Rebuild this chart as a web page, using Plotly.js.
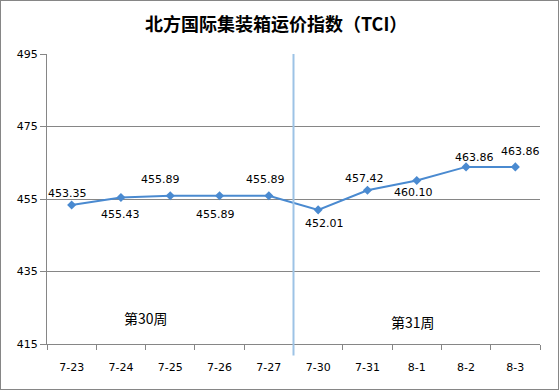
<!DOCTYPE html>
<html>
<head>
<meta charset="utf-8">
<script src="https://cdn.plot.ly/plotly-3.0.1.min.js"></script>
<style>
html,body{margin:0;padding:0;background:#fff;}
#chart{width:559px;height:390px;box-sizing:border-box;border:1px solid #868686;}
</style>
</head>
<body>
<div id="chart"></div>
<script>
const categories = ["7-23","7-24","7-25","7-26","7-27","7-30","7-31","8-1","8-2","8-3"];
const values = [453.35,455.43,455.89,455.89,455.89,452.01,457.42,460.10,463.86,463.86];
const valueLabels = ["453.35","455.43","455.89","455.89","455.89","452.01","457.42","460.10","463.86","463.86"];
const yTicks = [415,435,455,475,495];
const weekLabels = ["第30周","第31周"];

// label offsets in pixels (style only)
const labelDx = [-4,0,-10,-4,-3,6,-3,-3,8,5];
const labelDy = [11,-17,16,-19,16,-14,12,-12,9,15];

const trace = {
  type: "scatter",
  mode: "lines+markers",
  x: categories,
  y: values,
  line: {color: "#4A8AD0", width: 2},
  marker: {symbol: "diamond", size: 7, color: "#4A8AD0"},
  cliponaxis: false,
  hoverinfo: "skip"
};

const labelAnnotations = categories.map((c, i) => ({
  x: c, y: values[i], xref: "x", yref: "y", text: valueLabels[i], showarrow: false,
  xshift: labelDx[i], yshift: labelDy[i],
  font: {family: "DejaVu Sans", size: 11, color: "#000"}
}));

const layout = {
  width: 557, height: 388,
  margin: {l: 46, r: 18, t: 53, b: 45},
  paper_bgcolor: "#fff", plot_bgcolor: "#fff",
  showlegend: false,
  title: {text: "<b>北方国际集装箱运价指数（TCI）</b>", x: 0.494, xanchor: "center", y: 0.94, yanchor: "middle",
          font: {family: "Noto Sans CJK SC", size: 18, color: "#000"}},
  xaxis: {
    type: "category", range: [-0.5, 9.5], fixedrange: true,
    showgrid: false, showline: true, linecolor: "#868686", linewidth: 1,
    ticks: "outside", ticklen: 5, tickcolor: "#868686", tickson: "boundaries",
    ticklabelstandoff: 13,
    tickfont: {family: "DejaVu Sans", size: 11, color: "#000"}
  },
  yaxis: {
    range: [415, 495], tickvals: yTicks, ticktext: yTicks.map(String), fixedrange: true,
    showgrid: true, gridcolor: "#868686", gridwidth: 1, zeroline: false,
    showline: true, linecolor: "#868686", linewidth: 1,
    ticks: "outside", ticklen: 6, tickcolor: "#868686",
    tickfont: {family: "DejaVu Sans", size: 11, color: "#000"}
  },
  shapes: [{
    type: "line", xref: "x", yref: "paper", x0: 4.5, x1: 4.5, y0: -0.04, y1: 1.0,
    line: {color: "#9DC3E6", width: 2}
  }],
  annotations: labelAnnotations.concat([
    {x: 1.51, y: 422.2, xref: "x", yref: "y", text: weekLabels[0], showarrow: false,
     font: {family: "Noto Sans CJK SC", size: 14, color: "#000"}},
    {x: 6.92, y: 421.1, xref: "x", yref: "y", text: weekLabels[1], showarrow: false,
     font: {family: "Noto Sans CJK SC", size: 14, color: "#000"}}
  ])
};

Plotly.newPlot("chart", [trace], layout, {displayModeBar: false, staticPlot: true});
</script>
</body>
</html>
